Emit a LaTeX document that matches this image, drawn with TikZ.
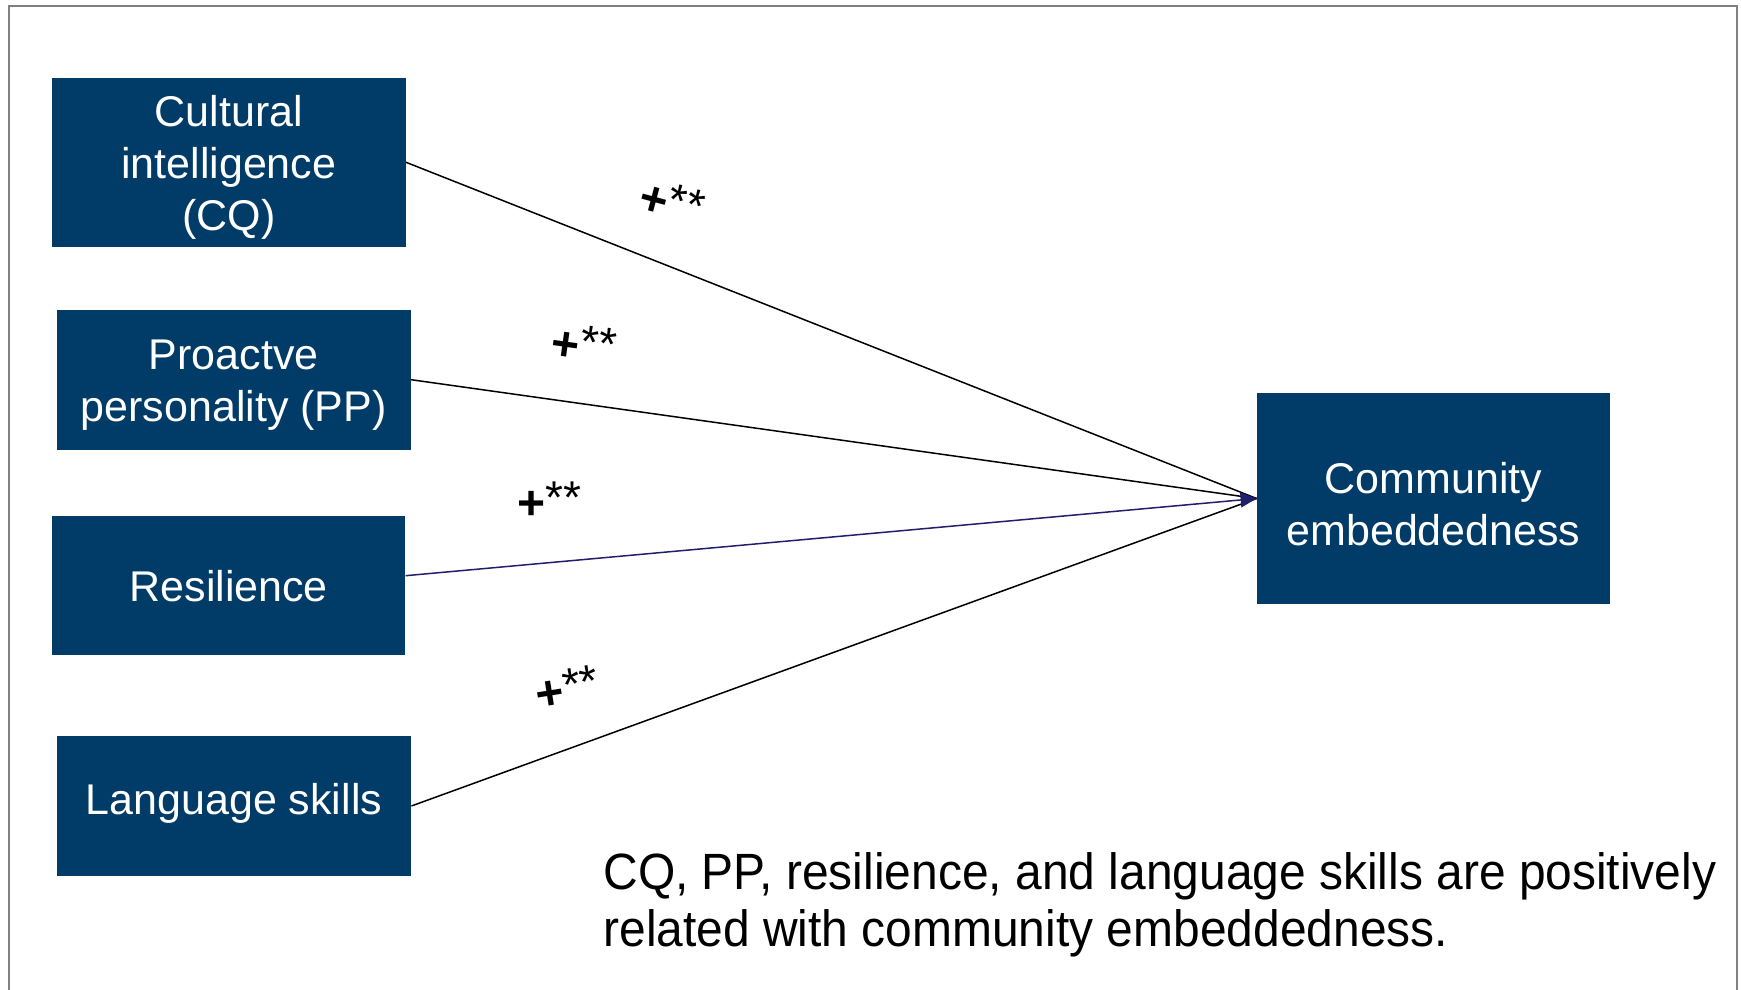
\documentclass[tikz,border=0pt]{standalone}
\usepackage{fontspec}
\setmainfont{Liberation Sans}
\newfontfamily\narrowsans[FakeStretch=0.94]{Liberation Sans}
\usetikzlibrary{arrows.meta}
\definecolor{boxblue}{RGB}{1,59,103}
\definecolor{navyline}{RGB}{32,30,110}
\definecolor{framegray}{RGB}{128,128,128}
\newcommand{\sig}{{\fontsize{24}{24}\selectfont\bfseries +}\raisebox{3pt}{\fontsize{23}{23}\selectfont **}}
\begin{document}
\begin{tikzpicture}[x=0.5pt,y=-0.5pt,
  box/.style={fill=boxblue, inner sep=0pt},
  boxtext/.style={text=white, align=center, inner sep=0pt,
    font=\fontsize{21.5}{26}\selectfont},
  link/.style={line width=0.75pt, black},
  siglabel/.style={inner sep=0pt, text=black}]
\useasboundingbox (0,0) rectangle (1741,990);
\draw[framegray, line width=1pt] (9,990) -- (9,6) -- (1737,6) -- (1737,990);

\node[box, minimum width=176.75pt, minimum height=84.25pt] (cq) at (228.75,162.25) {};
\node[box, minimum width=177pt, minimum height=70pt] (pp) at (233.7,379.7) {};
\node[box, minimum width=176.5pt, minimum height=69.5pt] (res) at (228.75,585.7) {};
\node[box, minimum width=177pt, minimum height=70pt] (lang) at (234,806) {};
\node[box, minimum width=176.5pt, minimum height=105.5pt] (comm) at (1433.5,498.5) {};

\node[boxtext] (cqt) at ([yshift=-2.8pt]cq.center) {Cultural\\intelligence\\(CQ)};
\node[boxtext] (ppt) at ([yshift=-2.5pt]pp.center) {Proactve\\personality (PP)};
\node[boxtext] (rest) at (res.center) {Resilience};
\node[boxtext] (langt) at ([yshift=1.5pt]lang.center) {Language skills};
\node[boxtext] (commt) at ([yshift=-3pt]comm.center) {Community\\embeddedness};

\draw[link] (cq.east) -- (comm.west);
\draw[link] (pp.east) -- (comm.west);
\draw[link] (lang.east) -- (comm.west);
\draw[line width=0.75pt, navyline, -{Triangle[length=8pt,width=7.5pt]}] ([yshift=5pt]res.east) -- (comm.west);

\node[siglabel, rotate=-15] (lab1) at (672,202) {\sig};
\node[siglabel, rotate=-8] (lab2) at (584,344) {\sig};
\node[siglabel] (lab3) at (549,501) {\sig};
\node[siglabel, rotate=9] (lab4) at (567,688) {\sig};

\node[anchor=north west, inner sep=0pt, align=left, font=\narrowsans\fontsize{25.5}{28.5}\selectfont] (note) at (603,852)
  {CQ, PP, resilience, and language skills are positively\\related with community embeddedness.};
\end{tikzpicture}
\end{document}
